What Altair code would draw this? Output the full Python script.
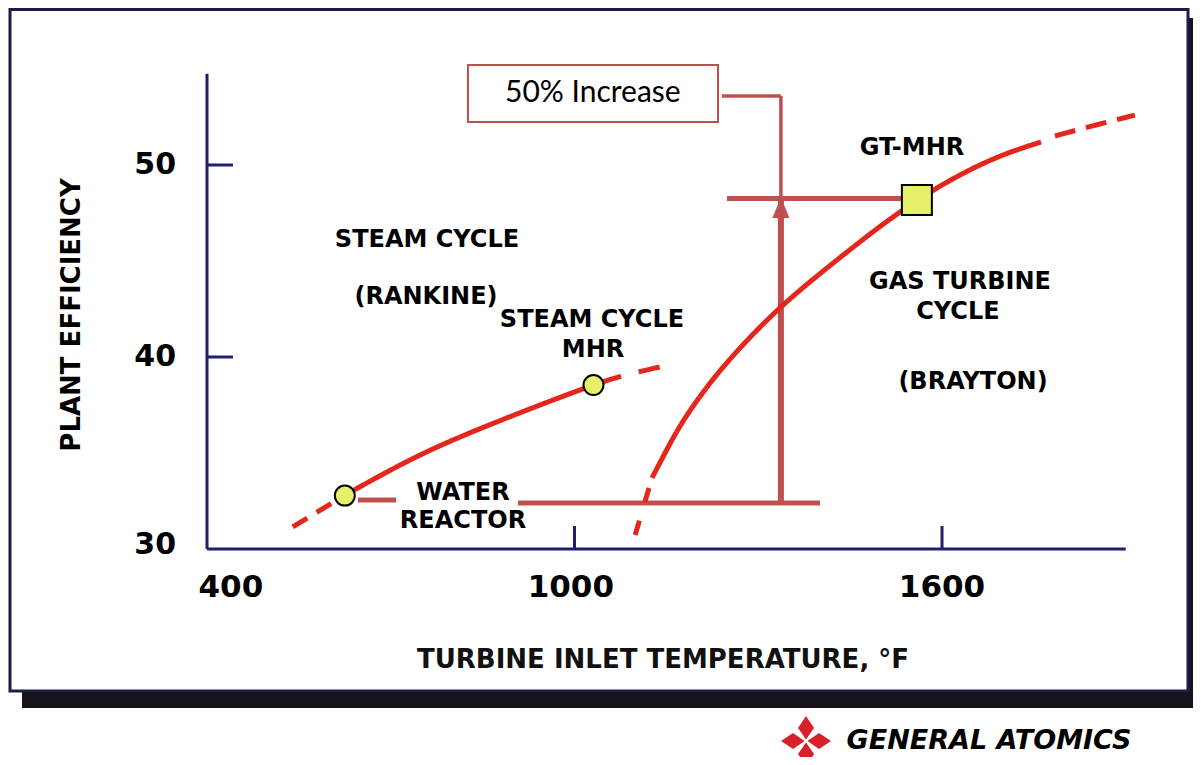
import altair as alt
import pandas as pd

# ---------------- data ----------------
# Steam (Rankine) cycle curve: temperature (°F) vs plant efficiency (%)
STEAM_T   = [540, 625, 625, 743, 851, 960, 1031, 1031, 1069, 1139]
STEAM_EFF = [31.15, 32.8, 32.8, 34.9, 36.35, 37.71, 38.54, 38.54, 38.96, 39.48]
STEAM_SEG = ["steam_lo", "steam_lo",
             "steam_mid", "steam_mid", "steam_mid", "steam_mid", "steam_mid",
             "steam_hi", "steam_hi", "steam_hi"]

# Gas turbine (Brayton) cycle curve
GT_T   = [1099, 1126.5,
          1126.5, 1152.7, 1177.1, 1226.1, 1281.6, 1335.5, 1389.4, 1444.9, 1498.8, 1559.2,
          1613.1, 1667.0, 1711.0, 1761.6,
          1784.5, 1849.8, 1915]
GT_EFF = [30.73, 33.7,
          33.70, 35.31, 36.72, 38.91, 40.89, 42.60, 44.06, 45.47, 46.82, 48.18,
          49.22, 50.10, 50.68, 51.20,
          51.51, 52.08, 52.6]
GT_SEG = ["gt_lo", "gt_lo"] + ["gt_mid"] * 14 + ["gt_hi"] * 3

SEGMENTS = ["steam_lo", "steam_mid", "steam_hi", "gt_lo", "gt_mid", "gt_hi"]
DASHES   = [[17, 11], [1, 0], [29, 18], [15, 19], [1, 0], [21, 11]]

# Plant markers
CIRCLE_NAME = ["Water reactor", "Steam cycle MHR"]
CIRCLE_T    = [625, 1031]
CIRCLE_EFF  = [32.78, 38.54]
SQUARE_NAME = ["GT-MHR"]
SQUARE_T    = [1559]
SQUARE_EFF  = [48.18]

# Axis ticks
Y_TICKS = [40, 50]
X_TICKS = [1000, 1600]
Y_TICK_LABELS = ["50", "40", "30"]
Y_TICK_LABEL_VALUES = [50, 40, 30.2]
X_TICK_LABELS = ["400", "1000", "1600"]
X_TICK_LABEL_VALUES = [439, 994, 1600]

# Annotation: 50% increase (water reactor level -> GT-MHR level)
LOW_LEVEL = 32.4
HIGH_LEVEL = 48.25
ARROW_T = 1337

# ---------------- styling ----------------
RED = "#e5261c"
ANNOT = "#c0504d"
NAVY = "#1f1f6b"
YELLOW = "#e6f06a"
FONT = "DejaVu Sans"

XS = alt.Scale(domain=[400, 1900], range=[199, 1117.75], zero=False, nice=False)
YS = alt.Scale(domain=[30, 54.75], range=[541, 65.8], zero=False, nice=False)


def X(f):
    return alt.X(f, type="quantitative", scale=XS, axis=None)


def Y(f):
    return alt.Y(f, type="quantitative", scale=YS, axis=None)


one = pd.DataFrame({"a": [0]})

# frame + shadow (decoration)
shadow = alt.Chart(one).mark_rect(fill="#17121c").encode(
    x=alt.value(14), x2=alt.value(1185), y=alt.value(10), y2=alt.value(700))
frame = alt.Chart(one).mark_rect(fill="white", stroke="#1c1c44", strokeWidth=3).encode(
    x=alt.value(2), x2=alt.value(1180), y=alt.value(1.5), y2=alt.value(683))

# axes
axis_df = pd.DataFrame({"x": [400, 400], "x2": [400, 1900], "y": [30, 30], "y2": [54.75, 30]})
axes = alt.Chart(axis_df).mark_rule(color=NAVY, strokeWidth=3).encode(
    x=X("x"), x2="x2", y=Y("y"), y2="y2")

ytick_df = pd.DataFrame({"x": [400] * len(Y_TICKS), "x2": [442.4] * len(Y_TICKS), "y": Y_TICKS})
yticks = alt.Chart(ytick_df).mark_rule(color=NAVY, strokeWidth=3).encode(
    x=X("x"), x2="x2", y=Y("y"))
xtick_df = pd.DataFrame({"x": X_TICKS, "y": [30] * len(X_TICKS), "y2": [31.2] * len(X_TICKS)})
xticks = alt.Chart(xtick_df).mark_rule(color=NAVY, strokeWidth=3).encode(
    x=X("x"), y=Y("y"), y2="y2")

ylab_df = pd.DataFrame({"t": Y_TICK_LABELS, "x": [349.4] * 3, "y": Y_TICK_LABEL_VALUES})
ylabels = alt.Chart(ylab_df).mark_text(font=FONT, fontWeight="bold", fontSize=30, align="right",
                                       baseline="middle", color="black").encode(
    x=X("x"), y=Y("y"), text="t:N")
xlab_df = pd.DataFrame({"t": X_TICK_LABELS, "x": X_TICK_LABEL_VALUES, "y": [27.97] * 3})
xlabels = alt.Chart(xlab_df).mark_text(font=FONT, fontWeight="bold", fontSize=31, align="center",
                                       baseline="middle", color="black").encode(
    x=X("x"), y=Y("y"), text="t:N")

xtitle = alt.Chart(pd.DataFrame({"t": ["TURBINE INLET TEMPERATURE, °F"], "x": [1144.5], "y": [24.22]})).mark_text(
    font=FONT, fontWeight="bold", fontSize=26, align="center", baseline="middle", color="#111111").encode(
    x=X("x"), y=Y("y"), text="t:N")
ytitle = alt.Chart(pd.DataFrame({"t": ["PLANT EFFICIENCY"], "x": [179.6], "y": [42.19]})).mark_text(
    font=FONT, fontWeight="bold", fontSize=26, align="center", baseline="middle", angle=270,
    color="black").encode(x=X("x"), y=Y("y"), text="t:N")

# annotation lines
ann_df = pd.DataFrame({
    "x":  [646.5, 907.8, ARROW_T, 1249, 1240.8, ARROW_T],
    "x2": [708.6, 1400.8, ARROW_T, 1559, ARROW_T, ARROW_T],
    "y":  [32.55, LOW_LEVEL, LOW_LEVEL, HIGH_LEVEL, 53.59, 53.59],
    "y2": [32.55, LOW_LEVEL, HIGH_LEVEL, HIGH_LEVEL, 53.59, HIGH_LEVEL],
    "w":  [5, 5, 6, 5, 3.5, 3.5],
})
ann = alt.Chart(ann_df).mark_rule(color=ANNOT, strokeCap="butt").encode(
    x=X("x"), x2="x2", y=Y("y"), y2="y2", strokeWidth=alt.StrokeWidth("w:Q", scale=None))

arrow = alt.Chart(pd.DataFrame({"x": [ARROW_T], "y": [47.79]})).mark_point(
    shape="M-0.81,1L0,-1L0.81,1Z", filled=True, color=ANNOT, size=441, opacity=1).encode(
    x=X("x"), y=Y("y"))

box = alt.Chart(pd.DataFrame({"x": [826.1], "x2": [1234.3], "y": [55.21], "y2": [52.24]})).mark_rect(
    fill="white", stroke=ANNOT, strokeWidth=2).encode(x=X("x"), x2="x2", y=Y("y"), y2="y2")
box_text = alt.Chart(pd.DataFrame({"t": ["50% Increase"], "x": [1030], "y": [53.75]})).mark_text(
    font="Lato", fontSize=30, align="center", baseline="middle", color="black").encode(
    x=X("x"), y=Y("y"), text="t:N")

# curves
curve_df = pd.DataFrame({"t": STEAM_T + GT_T, "eff": STEAM_EFF + GT_EFF, "seg": STEAM_SEG + GT_SEG})
curves = alt.Chart(curve_df).mark_line(color=RED, strokeWidth=5, interpolate="basis",
                                       strokeCap="butt").encode(
    x=X("t"), y=Y("eff"), detail="seg:N",
    strokeDash=alt.StrokeDash("seg:N", scale=alt.Scale(domain=SEGMENTS, range=DASHES), legend=None))

circles = alt.Chart(pd.DataFrame({"n": CIRCLE_NAME, "t": CIRCLE_T, "eff": CIRCLE_EFF})).mark_circle(
    size=400, fill=YELLOW, stroke="black", strokeWidth=2, opacity=1).encode(x=X("t"), y=Y("eff"))
squares = alt.Chart(pd.DataFrame({"n": SQUARE_NAME, "t": SQUARE_T, "eff": SQUARE_EFF})).mark_square(
    size=900, fill=YELLOW, stroke="black", strokeWidth=2, opacity=1).encode(x=X("t"), y=Y("eff"))

# region labels
LABELS = ["STEAM CYCLE", "(RANKINE)", "STEAM CYCLE", "MHR", "WATER", "REACTOR",
          "GT-MHR", "GAS TURBINE", "CYCLE", "(BRAYTON)"]
LABEL_X = [759.2, 757.6, 1028.6, 1030.2, 818, 818, 1551, 1629.4, 1626, 1650.6]
LABEL_Y = [46.09, 43.125, 41.93, 40.36, 32.92, 31.46, 50.89, 43.91, 42.34, 38.70]
labels = alt.Chart(pd.DataFrame({"t": LABELS, "x": LABEL_X, "y": LABEL_Y})).mark_text(
    font=FONT, fontWeight="bold", fontSize=24, align="center", baseline="middle", color="black").encode(
    x=X("x"), y=Y("y"), text="t:N")

# logo
LOGO_PATH = ("M0,-1L0.32,-0.52L0,-0.06L-0.32,-0.52Z"
             "M0,1L0.32,0.52L0,0.06L-0.32,0.52Z"
             "M-1,0L-0.52,0.32L-0.06,0L-0.52,-0.32Z"
             "M1,0L0.52,0.32L0.06,0L0.52,-0.32Z")
logo = alt.Chart(pd.DataFrame({"x": [1378], "y": [20.0]})).mark_point(
    shape=LOGO_PATH, filled=True, color="#d8202a", size=2500, opacity=1).encode(x=X("x"), y=Y("y"))
logo_text = alt.Chart(pd.DataFrame({"t": ["GENERAL ATOMICS"], "x": [1676.7], "y": [20.0]})).mark_text(
    font=FONT, fontWeight="bold", fontStyle="italic", fontSize=27, align="center", baseline="middle",
    color="black").encode(x=X("x"), y=Y("y"), text="t:N")

chart = alt.layer(
    shadow, frame, axes, yticks, xticks, ylabels, xlabels, xtitle, ytitle,
    ann, arrow, box, box_text, curves, circles, squares, labels, logo, logo_text
).properties(
    width=1185, height=749, autosize=alt.AutoSizeParams(type="none"), padding=0
).configure_view(stroke=None)

chart.save("out.html", embed_options={"renderer": "svg", "actions": False})
